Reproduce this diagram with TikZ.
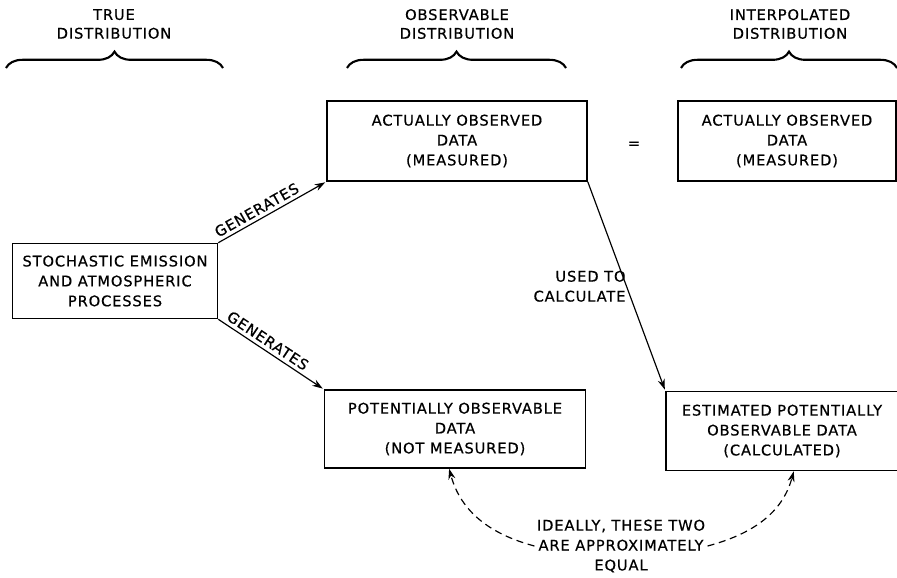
\documentclass[tikz,border=0pt]{standalone}
\usepackage{fontspec}
\setmainfont{DejaVu Sans}[LetterSpace=6,FakeBold=0.6]
\usetikzlibrary{arrows.meta,decorations.pathreplacing,positioning}
\begin{document}
\begin{tikzpicture}[>={Stealth[length=9pt,width=6pt]},x=0.03cm,y=-0.03cm,font=\fontsize{12.5}{17}\selectfont,
    databox/.style={draw,line width=1.3pt,align=center,inner sep=0pt},
    head/.style={align=center,font=\fontsize{12.5}{16}\selectfont},
    brc/.style={decorate,decoration={brace,amplitude=14pt},line width=1.8pt},
    link/.style={->,line width=1pt,shorten >=1pt}]
    \useasboundingbox (0,0) rectangle (897,577);
    % column headings
    \node[head] (htrue) at (114,24) {TRUE\\DISTRIBUTION};
    \node[head] (hobs) at (457,24) {OBSERVABLE\\DISTRIBUTION};
    \node[head] (hint) at (790,24) {INTERPOLATED\\DISTRIBUTION};
    \draw[brc] (6,68) -- (223,68);
    \draw[brc] (347,68) -- (566,68);
    \draw[brc] (681,68) -- (897,68);
    % boxes
    \node[databox,minimum width=6.15cm,minimum height=2.25cm] (src) at (115,281) {STOCHASTIC EMISSION\\AND ATMOSPHERIC\\PROCESSES};
    \node[databox,minimum width=7.8cm,minimum height=2.4cm] (obs) at (457,141) {ACTUALLY OBSERVED\\DATA\\(MEASURED)};
    \node[databox,minimum width=6.54cm,minimum height=2.4cm] (interp) at (787,141) {ACTUALLY OBSERVED\\DATA\\(MEASURED)};
    \node (eqsign) at (634,145) {=};
    \node[databox,minimum width=7.83cm,minimum height=2.34cm] (pot) at (455,429) {POTENTIALLY OBSERVABLE\\DATA\\(NOT MEASURED)};
    \node[databox,minimum width=6.96cm,minimum height=2.37cm] (est) at (782,431) {ESTIMATED POTENTIALLY\\OBSERVABLE DATA\\(CALCULATED)};
    \node[align=center,inner sep=2pt] (ideal) at (621,546) {IDEALLY, THESE TWO\\ARE APPROXIMATELY\\EQUAL};
    % connectors
    \draw[link] (src.north east) -- node[sloped,above=2pt,pos=.4,inner sep=1pt] {GENERATES} (obs.south west);
    \draw[link] (src.south east) -- node[sloped,above=2pt,pos=.42,inner sep=1pt] {GENERATES} (pot.north west);
    \draw[link] (obs.south east) -- node[left,align=right,pos=.5,xshift=3pt] {USED TO\\CALCULATE} (est.north west);
    \draw[->,line width=1pt,dash pattern=on 6pt off 4pt] (ideal.west) to[out=165,in=-75] ([xshift=-5pt]pot.south);
    \draw[->,line width=1pt,dash pattern=on 6pt off 4pt] (ideal.east) to[out=15,in=-105] ([xshift=10pt]est.south);
\end{tikzpicture}
\end{document}
